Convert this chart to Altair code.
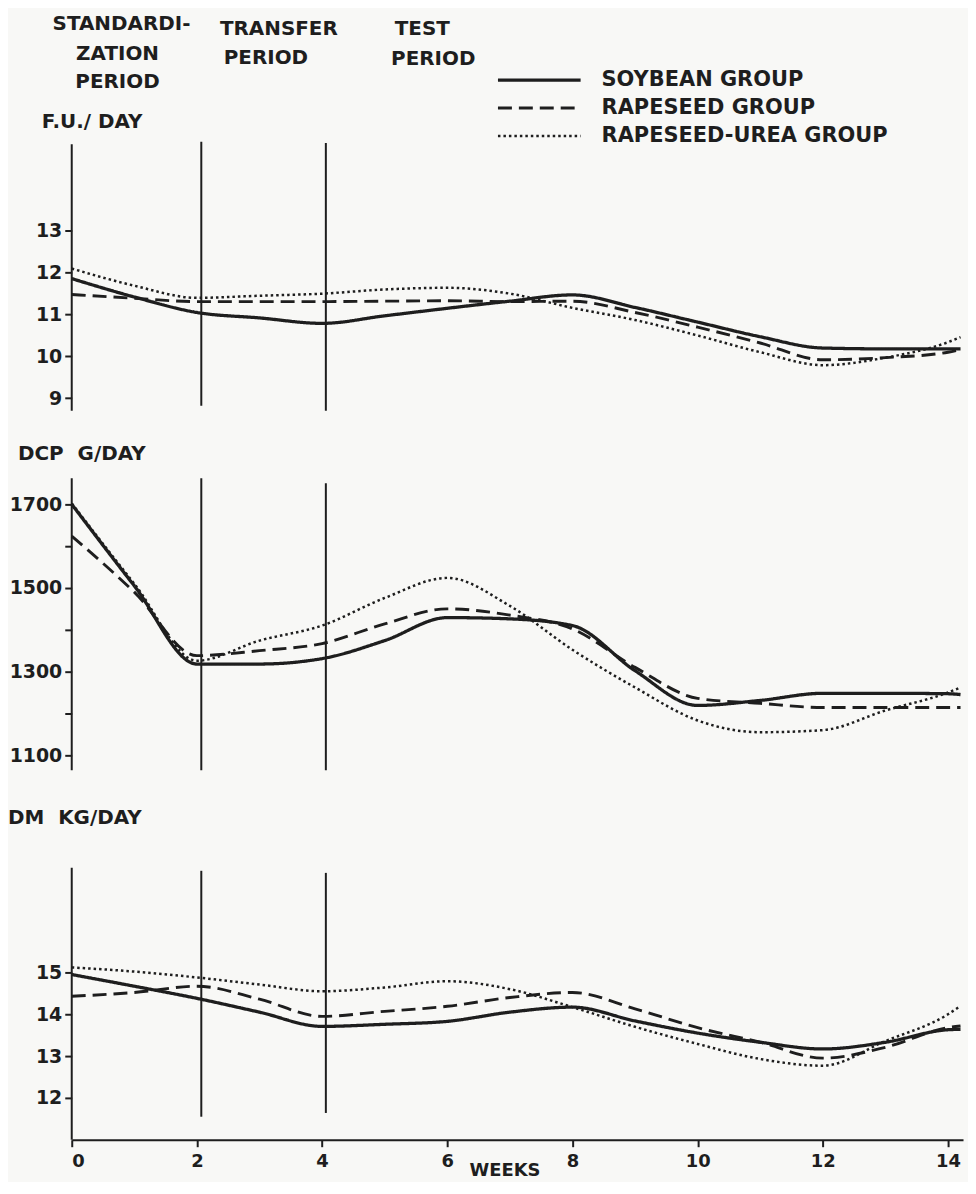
import altair as alt
import pandas as pd

# ---------------- data ----------------
weeks = [0, 1, 2, 3, 4, 5, 6, 7, 8, 9, 10, 11, 12, 13, 14, 14.2]
groups = ["SOYBEAN GROUP", "RAPESEED GROUP", "RAPESEED-UREA GROUP"]

fu_soy = [11.86, 11.42, 11.05, 10.92, 10.79, 10.97, 11.15, 11.32, 11.47, 11.17, 10.82, 10.47, 10.20, 10.18, 10.18, 10.18]
fu_rape = [11.48, 11.39, 11.31, 11.31, 11.31, 11.32, 11.33, 11.31, 11.32, 11.05, 10.70, 10.32, 9.92, 9.97, 10.10, 10.16]
fu_urea = [12.10, 11.69, 11.40, 11.45, 11.50, 11.60, 11.64, 11.50, 11.16, 10.87, 10.50, 10.10, 9.79, 9.97, 10.34, 10.46]

dcp_soy = [1700, 1505, 1318, 1318, 1331, 1374, 1429, 1426, 1410, 1302, 1219, 1231, 1248, 1248, 1247, 1245]
dcp_rape = [1624, 1490, 1338, 1350, 1367, 1414, 1450, 1435, 1402, 1310, 1236, 1224, 1214, 1214, 1214, 1214]
dcp_urea = [1702, 1510, 1326, 1374, 1410, 1476, 1524, 1457, 1352, 1262, 1183, 1155, 1160, 1207, 1250, 1262]

dm_soy = [14.95, 14.67, 14.38, 14.05, 13.71, 13.76, 13.83, 14.05, 14.17, 13.84, 13.55, 13.33, 13.17, 13.33, 13.63, 13.64]
dm_rape = [14.43, 14.52, 14.67, 14.36, 13.95, 14.07, 14.19, 14.40, 14.52, 14.13, 13.68, 13.33, 12.95, 13.21, 13.68, 13.72]
dm_urea = [15.12, 15.02, 14.88, 14.71, 14.55, 14.64, 14.79, 14.60, 14.17, 13.70, 13.29, 12.93, 12.77, 13.36, 14.00, 14.20]

# vertical period lines (axis line at week 0, period borders near weeks 2 and 4)
period_weeks = [0, 2.07, 4.06]
fu_line_top = [15.07, 15.13, 15.10]
fu_line_bottom = [8.70, 8.82, 8.70]
dcp_line_top = [1762, 1762, 1750]
dcp_line_bottom = [1064, 1064, 1064]
dm_line_top = [17.50, 17.43, 17.38]
dm_line_bottom = [11.00, 11.55, 11.64]

fu_ticks = [9, 10, 11, 12, 13]
dcp_ticks = [1100, 1200, 1300, 1400, 1500, 1600, 1700]
dm_ticks = [12, 13, 14, 15]
week_ticks = [0, 2, 4, 6, 8, 10, 12, 14]

# ---------------- styling ----------------
FONT = "DejaVu Sans"
INK = "#1e1e1e"
BG = "#f8f8f6"
XMAX = 14.24
W = 895


def long_table(series):
    rows = []
    for g, vals in zip(groups, series):
        for w, v in zip(weeks, vals):
            rows.append({"week": w, "value": v, "group": g})
    return pd.DataFrame(rows)


def rule_table(tops, bottoms):
    return pd.DataFrame({"week": period_weeks, "top": tops, "bottom": bottoms})


x_scale = alt.Scale(domain=[0, XMAX], nice=False, zero=False)
dash_scale = alt.Scale(domain=groups, range=[[1, 0], [14, 7], [2.5, 3]])
width_scale = alt.Scale(domain=groups, range=[3.3, 2.5, 2.7])


def text_layer(txt, x, y, size=20, align="center"):
    return alt.Chart(alt.Data(values=[{}])).mark_text(
        text=txt, x=x, y=y, align=align, baseline="middle",
        font=FONT, fontSize=size, fontWeight="bold", color=INK,
    )


def y_axis(ticks, label_expr=None):
    kw = dict(values=ticks, domain=False, grid=False, title=None, format="d",
              tickSize=7, tickWidth=2, tickColor=INK,
              labelFont=FONT, labelFontSize=19, labelFontWeight="bold",
              labelColor=INK, labelPadding=3)
    if label_expr:
        kw["labelExpr"] = label_expr
    return alt.Axis(**kw)


def panel(df, rules_df, ydomain, height, yaxis, xaxis, texts, legend=None):
    ysc = alt.Scale(domain=ydomain, nice=False, zero=False)
    dash_kw = {"scale": dash_scale}
    if legend is not None:
        dash_kw["legend"] = legend
    lines = alt.Chart(df).mark_line(interpolate="monotone", color=INK).encode(
        x=alt.X("week:Q", scale=x_scale, axis=xaxis),
        y=alt.Y("value:Q", scale=ysc, axis=yaxis),
        strokeDash=alt.StrokeDash("group:N", **dash_kw),
        strokeWidth=alt.StrokeWidth("group:N", scale=width_scale, legend=None),
    )
    rules = alt.Chart(rules_df).mark_rule(color=INK, strokeWidth=2).encode(
        x=alt.X("week:Q", scale=x_scale, axis=xaxis),
        y=alt.Y("top:Q", scale=ysc, axis=yaxis),
        y2="bottom:Q",
    )
    return alt.layer(rules, lines, *texts).properties(width=W, height=height)


legend = alt.Legend(
    title=None, orient="none", legendX=426, legendY=57,
    symbolType="stroke", symbolSize=6889, symbolStrokeWidth=2.6,
    symbolStrokeColor=INK, symbolOffset=0, clipHeight=26, rowPadding=2,
    labelFont=FONT, labelFontSize=21, labelFontWeight="bold",
    labelColor=INK, labelOffset=19, labelLimit=400, padding=0,
)

x_axis_bottom = alt.Axis(
    values=week_ticks, format="d", title=None, grid=False,
    domain=True, domainColor=INK, domainWidth=2,
    tickSize=7, tickWidth=2, tickColor=INK,
    labelFont=FONT, labelFontSize=18, labelFontWeight="bold",
    labelColor=INK, labelPadding=6,
)

p1 = panel(
    long_table([fu_soy, fu_rape, fu_urea]),
    rule_table(fu_line_top, fu_line_bottom),
    [8.7, 8.7 + 402 / 42], 402, y_axis(fu_ticks), None,
    [
        text_layer("STANDARDI-", 50, 14),
        text_layer("ZATION", 46, 44),
        text_layer("PERIOD", 46, 72),
        text_layer("TRANSFER", 208, 19),
        text_layer("PERIOD", 195, 48),
        text_layer("TEST", 352, 19),
        text_layer("PERIOD", 363, 49),
        text_layer("F.U./ DAY", -30, 112, size=20, align="left"),
    ],
    legend=legend,
)

p2 = panel(
    long_table([dcp_soy, dcp_rape, dcp_urea]),
    rule_table(dcp_line_top, dcp_line_bottom),
    [1064, 1064 + 360 / 0.42], 360,
    y_axis(dcp_ticks, "datum.value % 200 == 100 ? datum.label : ''"), None,
    [text_layer("DCP\u00a0\u00a0G/DAY", -54, 42, size=20, align="left")],
)

p3 = panel(
    long_table([dm_soy, dm_rape, dm_urea]),
    rule_table(dm_line_top, dm_line_bottom),
    [11.0, 11.0 + 370 / 42], 370, y_axis(dm_ticks), x_axis_bottom,
    [
        text_layer("DM\u00a0\u00a0KG/DAY", -64, 47, size=20, align="left"),
        text_layer("WEEKS", 435, 401, size=18),
    ],
)

chart = (
    alt.vconcat(p1, p2, p3, spacing=0)
    .properties(padding=0, background=BG)
    .configure_view(stroke=None)
)

chart.save("out.html", embed_options={"renderer": "svg", "actions": False})
